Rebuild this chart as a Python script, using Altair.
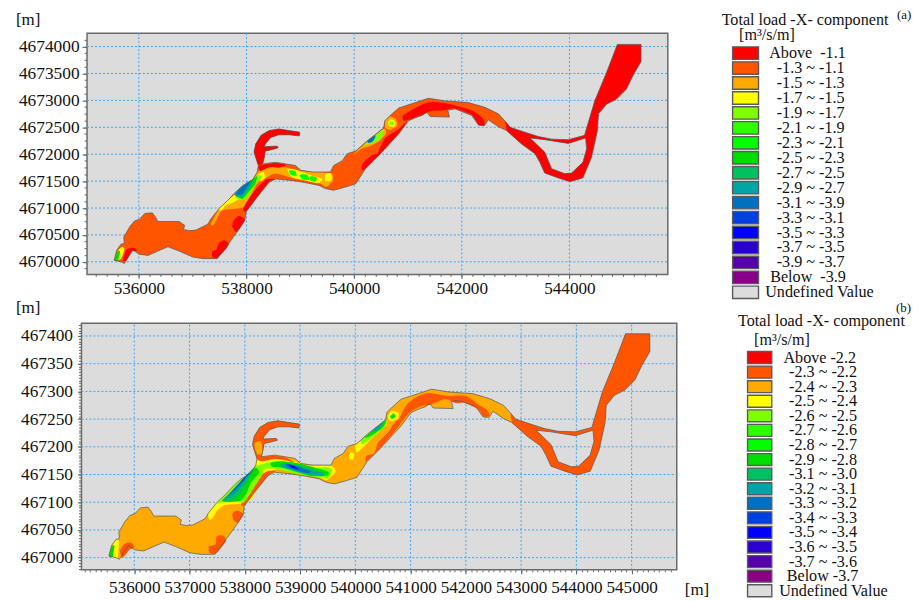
import altair as alt
import pandas as pd

W, H = 908, 592
FONT = "Liberation Serif"

PALETTE = ["#ff0000", "#ff5500", "#ffaa00", "#ffff00", "#80ff00", "#2bff00", "#00ff00", "#00dd00",
           "#00c060", "#00a5a5", "#0070c0", "#0040e0", "#0000ff", "#2a00d0", "#5500aa", "#880088", "#dcdcdc"]
LEVELS = list(range(17))

LABELS_A = ["Above\u00a0\u00a0-1.1", "-1.3 ~ -1.1", "-1.5 ~ -1.3", "-1.7 ~ -1.5", "-1.9 ~ -1.7", "-2.1 ~ -1.9",
            "-2.3 ~ -2.1", "-2.5 ~ -2.3", "-2.7 ~ -2.5", "-2.9 ~ -2.7", "-3.1 ~ -3.9", "-3.3 ~ -3.1",
            "-3.5 ~ -3.3", "-3.7 ~ -3.5", "-3.9 ~ -3.7", "Below\u00a0\u00a0-3.9", "Undefined Value"]
LABELS_B = ["Above -2.2", "-2.3 ~ -2.2", "-2.4 ~ -2.3", "-2.5 ~ -2.4", "-2.6 ~ -2.5", "-2.7 ~ -2.6",
            "-2.8 ~ -2.7", "-2.9 ~ -2.8", "-3.1 ~ -3.0", "-3.2 ~ -3.1", "-3.3 ~ -3.2", "-3.4 ~ -3.3",
            "-3.5 ~ -3.4", "-3.6 ~ -3.5", "-3.7 ~ -3.6", "Below -3.7", "Undefined Value"]

# River outline, metres (panel a northing; panel b's axis reads a tenth of it)
EAST = [(542800,4672620),(542900,4672500),(543170,4672410),(543420,4672330),(543670,4672280),(543980,4672270),
        (544280,4672350),(544470,4672990),(544690,4673520),(544890,4674040),(545330,4674040),(545330,4673720),
        (545180,4673460),(545060,4673210),(544870,4673020),(544690,4672930),(544540,4672750),(544520,4672440),
        (544410,4671940),(544250,4671560),(544010,4671490),(543790,4671560),(543540,4671650),(543450,4671850),
        (543360,4672010),(543110,4672190),(542830,4672440)]
ISLAND = [(543540,4672040),(543670,4671730),(543910,4671640),(544040,4671650),(544250,4671850),(544320,4672100),
          (544300,4672300),(543980,4672200),(543540,4672270),(543270,4672300)]
WEST_SOUTH = [(542830,4672440),(542680,4672510),(542490,4672640),(542420,4672530),(542310,4672540),(542185,4672720),
              (541880,4672840),(541740,4672820),(541770,4672690),(541410,4672700),(541350,4672780),(541260,4672720),
              (541170,4672690),(541010,4672620),(540830,4672380),(540460,4671980),(540210,4671730),(540030,4671450),
              (539840,4671390),(539620,4671330),(539470,4671360),(539350,4671420),(539100,4671470),(538850,4671510),
              (538540,4671540),(538420,4671480),(538170,4671170),(537990,4670930),(537970,4670770),(537800,4670520),
              (537460,4670060),(537190,4670060),(537000,4670090),(536750,4670200),(536540,4670280),(536350,4670200),
              (536170,4670120),(536010,4670140),(535890,4670220),(535730,4669970),(535670,4670000),(535540,4670030),
              (535590,4670220),(535670,4670330),(535730,4670340),(535720,4670460),(535830,4670650),(535920,4670760),
              (536010,4670790),(536110,4670900),(536250,4670910),(536310,4670830),(536350,4670750),(536750,4670750),
              (536850,4670680),(536830,4670600),(536940,4670580),(537060,4670590),(537280,4670700),(537340,4670800),
              (537490,4670990),(537650,4671140),(537770,4671270),(537930,4671420),(538110,4671520),(538200,4671670),
              (538220,4671790)]
HOOK = [(538170,4671940),(538140,4672040),(538170,4672190),(538270,4672350),(538420,4672440),(538600,4672470),
        (538850,4672430),(538990,4672410),(538980,4672340),(538790,4672360),(538600,4672360),(538450,4672310),
        (538350,4672190),(538330,4672140),(538570,4672150),(538590,4672120),(538450,4672080),(538350,4672060),
        (538330,4671940),(538300,4671820)]
WEST_NORTH = [(538540,4671850),(538730,4671820),(538910,4671790),(539010,4671700),(539220,4671670),(539560,4671670),
              (539620,4671790),(539780,4671880),(539870,4672010),(540030,4672060),(540210,4672220),(540550,4672490),
              (540570,4672620),(540670,4672720),(540830,4672860),(541140,4672960),(541380,4673040),(541690,4672990),
              (542120,4672960),(542430,4672870),(542680,4672750),(542800,4672620)]

PATCHES_A = [
 (2,[(537340,4670700),(537490,4670990),(537650,4671140),(537800,4671270),(537930,4671420),(538110,4671520),(538200,4671670),(538310,4671710),(538600,4671780),(538980,4671690),(539560,4671650),(539600,4671510),(539480,4671390),(539350,4671460),(538850,4671560),(538540,4671640),(538360,4671560),(538200,4671450),(538080,4671230),(537930,4671010),(537710,4670980),(537530,4670940),(537400,4670700)]),
 (0,[(535770,4670230),(535920,4670260),(535960,4670200),(535860,4670190),(535770,4670030),(535700,4670020)]),
 (0,[(537360,4670190),(537440,4670230),(537490,4670350),(537590,4670400),(537670,4670330),(537600,4670220),(537460,4670080),(537370,4670080)]),
 (0,[(537750,4670740),(537850,4670850),(537970,4670780),(537820,4670560),(537740,4670640)]),
 (0,[(538230,4671780),(538540,4671830),(538740,4671800),(538600,4671750),(538420,4671760),(538270,4671690)]),
 (0,[(538530,4671540),(538420,4671490),(538190,4671190),(538000,4670940),(537940,4670990),(538110,4671270),(538350,4671520)]),
 (0,[(540150,4671820),(540330,4671980),(540460,4671990),(540220,4671750),(540150,4671700)]),
 (0,[(540440,4672020),(540580,4672300),(540830,4672470),(540980,4672610),(540830,4672390),(540470,4671990)]),
 (0,[(540920,4672620),(540910,4672720),(541140,4672860),(541380,4672960),(541720,4672940),(542190,4672810),(542400,4672650),(542420,4672540),(542310,4672550),(542190,4672730),(541880,4672850),(541740,4672830),(541630,4672810),(541410,4672800),(541260,4672730),(541010,4672640)]),
 (2,[(540030,4672040),(540210,4672210),(540550,4672470),(540590,4672380),(540460,4672240),(540270,4672140),(540140,4672100),(539990,4671990)]),
 (2,[(540580,4672620),(540670,4672700),(540770,4672650),(540800,4672530),(540670,4672450),(540580,4672490)]),
 (3,[(537490,4670990),(537650,4671140),(537800,4671250),(537880,4671190),(537770,4671110),(537620,4671050),(537540,4670960)]),
 (3,[(538220,4671620),(538310,4671670),(538350,4671570),(538270,4671500)]),
 (3,[(539460,4671620),(539560,4671650),(539580,4671520),(539470,4671500)]),
 (3,[(538760,4671720),(538910,4671710),(539220,4671600),(539410,4671540),(539320,4671460),(539100,4671510),(538850,4671570)]),
 (3,[(540630,4672610),(540700,4672650),(540770,4672590),(540740,4672510),(540650,4672530)]),
 (3,[(535610,4670200),(535690,4670280),(535730,4670230),(535670,4670060),(535570,4670040)]),
 (4,[(537790,4671230),(537930,4671410),(538120,4671540),(538230,4671620),(538280,4671570),(538170,4671450),(538040,4671220),(537930,4671150),(537830,4671170)]),
 (4,[(540200,4672190),(540550,4672470),(540490,4672280),(540330,4672200),(540240,4672180)]),
 (4,[(540650,4672590),(540720,4672610),(540730,4672550),(540670,4672540)]),
 (7,[(537800,4671250),(537930,4671410),(538120,4671540),(538200,4671590),(538160,4671440),(538020,4671270),(537930,4671170),(537850,4671200)]),
 (6,[(538790,4671700),(538900,4671690),(538930,4671600),(538820,4671620)]),
 (6,[(538990,4671620),(539130,4671620),(539160,4671520),(539030,4671540)]),
 (6,[(539190,4671590),(539300,4671570),(539280,4671490),(539190,4671510)]),
 (7,[(535550,4670040),(535600,4670190),(535650,4670190),(535610,4670020)]),
 (9,[(537780,4671260),(537930,4671410),(538110,4671520),(538080,4671420),(537980,4671280),(537900,4671200),(537820,4671220)]),
 (10,[(537800,4671260),(537930,4671400),(538070,4671490),(537990,4671360),(537910,4671250)]),
 (10,[(540250,4672250),(540400,4672350),(540350,4672240),(540270,4672210)]),
]

PATCHES_B = [
 (1,[(535740,467012),(535830,467025),(535950,467027),(536000,467018),(535920,467015),(535790,467000)]),
 (1,[(537350,467020),(537470,467024),(537490,467038),(537600,467040),(537660,467030),(537480,467008),(537360,467009)]),
 (1,[(537780,467080),(537870,467085),(537970,467078),(537870,467063),(537790,467069)]),
 (1,[(540200,467174),(540200,467184),(540340,467188),(540410,467207),(540580,467225),(540760,467249),(540800,467240),(540470,467200)]),
 (1,[(540660,467237),(540780,467249),(540930,467276),(541110,467290),(541330,467297),(541660,467292),(541990,467292),(542230,467276),(542380,467267),(542430,467256),(542320,467255),(542230,467267),(541990,467279),(541810,467279),(541690,467285),(541570,467285),(541360,467276),(541210,467274),(541010,467264),(540870,467249),(540690,467228)]),
 (3,[(537340,467080),(537490,467099),(537650,467114),(537770,467127),(537930,467142),(538110,467152),(538200,467167),(538220,467178),(538540,467184),(538730,467181),(539010,467169),(539220,467166),(539560,467166),(539640,467155),(539480,467140),(539350,467146),(539100,467152),(538850,467156),(538600,467160),(538400,467152),(538250,467128),(538120,467105),(537990,467098),(537880,467097),(537640,467095),(537500,467085),(537420,467072),(537360,467068)]),
 (1,[(538560,467156),(538440,467150),(538200,467121),(538000,467095),(537930,467096),(538080,467122),(538260,467146),(538410,467156)]),
 (1,[(538220,467180),(538540,467184),(538730,467181),(538900,467172),(538700,467176),(538540,467178),(538300,467174)]),
 (2,[(538180,467207),(538290,467210),(538320,467189),(538230,467186),(538190,467195)]),
 (3,[(540000,467202),(540030,467205),(540210,467221),(540550,467248),(540560,467240),(540300,467215),(540100,467195),(540020,467190)]),
 (3,[(539900,467189),(539980,467188),(539960,467177),(539900,467178)]),
 (3,[(540590,467255),(540660,467265),(540780,467261),(540770,467250),(540630,467246)]),
 (3,[(535600,467020),(535670,467032),(535720,467030),(535700,467000),(535620,467002)]),
 (4,[(537500,467098),(537650,467113),(537770,467126),(537930,467141),(538110,467151),(538190,467165),(538600,467175),(538850,467168),(539100,467161),(539460,467163),(539580,467158),(539500,467143),(539350,467145),(538900,467152),(538580,467160),(538350,467160),(538320,467150),(538170,467127),(537990,467100),(537850,467101),(537600,467100)]),
 (4,[(540100,467212),(540210,467221),(540550,467248),(540530,467236),(540300,467216),(540130,467205)]),
 (7,[(537600,467102),(537840,467126),(538080,467153),(538200,467162),(538260,467153),(538110,467135),(538020,467114),(537900,467102)]),
 (7,[(538470,467171),(538680,467174),(538980,467170),(539490,467156),(539490,467148),(539220,467147),(538920,467155),(538680,467162),(538500,467164)]),
 (7,[(540180,467218),(540550,467248),(540500,467235),(540250,467218)]),
 (7,[(540630,467255),(540690,467260),(540730,467255),(540660,467250)]),
 (7,[(535545,467003),(535592,467020),(535640,467022),(535610,467002)]),
 (8,[(537590,467103),(537840,467127),(538080,467154),(538170,467162),(538050,467138),(537900,467114),(537750,467103)]),
 (9,[(537630,467105),(537840,467127),(538080,467153),(537990,467135),(537810,467114)]),
 (9,[(538650,467170),(538980,467166),(539400,467153),(539430,467148),(539160,467150),(538860,467158),(538710,467162)]),
 (9,[(540300,467228),(540520,467246),(540400,467230)]),
 (10,[(537720,467114),(537900,467135),(538090,467154),(537990,467140),(537840,467123)]),
 (10,[(538750,467170),(538980,467164),(539190,467155),(539100,467153),(538890,467159),(538770,467164)]),
 (11,[(537930,467138),(538080,467153),(537990,467142)]),
 (12,[(538790,467168),(538890,467165),(538980,467159),(538860,467162)]),
]

XT_A = [536000, 538000, 540000, 542000, 544000]
YT_A = [4670000, 4670500, 4671000, 4671500, 4672000, 4672500, 4673000, 4673500, 4674000]
XT_B = [536000, 537000, 538000, 539000, 540000, 541000, 542000, 543000, 544000, 545000]
YT_B = [467000, 467050, 467100, 467150, 467200, 467250, 467300, 467350, 467400]


def rows(rings, div=1):
    out = []
    for pid, (level, pts) in enumerate(rings):
        for i, (x, y) in enumerate(pts):
            out.append({"pid": pid, "level": level, "i": i, "x": x, "y": y / div})
    return pd.DataFrame(out)


FILL = alt.Fill("level:O", scale=alt.Scale(domain=LEVELS, range=PALETTE), legend=None)
WEST = WEST_SOUTH + HOOK + WEST_NORTH


def panel(xdom, xrng, ydom, yrng, xt, yt, xminor, yminor, base, patches, div, xpad, ypad, ytick):
    xs = alt.Scale(domain=xdom, range=xrng, nice=False, zero=False)
    ys = alt.Scale(domain=ydom, range=yrng, nice=False, zero=False)
    X = lambda **k: alt.X("x:Q", scale=xs, axis=None, **k)
    Y = lambda **k: alt.Y("y:Q", scale=ys, axis=None, **k)
    xoff, yoff = yrng[0] - H, -xrng[0]

    frame = alt.Chart(pd.DataFrame({"x": [xdom[0]], "x2": [xdom[1]], "y": [ydom[0]], "y2": [ydom[1]]})).mark_rect(
        fill="#dcdcdc", stroke="#6a6a6a", strokeWidth=1.5).encode(x=X(), x2="x2:Q", y=Y(), y2="y2:Q")
    vgrid = alt.Chart(pd.DataFrame({"x": xt, "lo": ydom[0], "hi": ydom[1]})).mark_rule(
        color="#45a5ea", strokeWidth=1, strokeDash=[2, 2]).encode(
        x=X(), y=alt.Y("lo:Q", scale=ys, axis=None), y2="hi:Q")
    hgrid = alt.Chart(pd.DataFrame({"y": yt, "lo": xdom[0], "hi": xdom[1]})).mark_rule(
        color="#45a5ea", strokeWidth=1, strokeDash=[2, 2]).encode(
        y=Y(), x=alt.X("lo:Q", scale=xs, axis=None), x2="hi:Q")
    basefill = alt.Chart(rows(base, div)).mark_line(interpolate="linear-closed", strokeWidth=0).encode(
        x=X(), y=Y(), fill=FILL, detail="pid:N", order="i:Q")
    blobs = alt.Chart(rows(patches)).mark_line(interpolate="cardinal-closed", tension=0.3, strokeWidth=0).encode(
        x=X(), y=Y(), fill=FILL, detail="pid:N", order="i:Q")
    outline = alt.Chart(rows([(0, WEST + EAST), (1, ISLAND)], div)).mark_line(
        interpolate="linear-closed", color="#555555", strokeWidth=0.7).encode(
        x=X(), y=Y(), detail="pid:N", order="i:Q")
    main = alt.layer(frame, vgrid, hgrid, basefill, blobs, outline)

    corner = pd.DataFrame({"x": xt[:1], "y": yt[:1]})
    major = alt.Chart(corner).mark_point(opacity=0).encode(
        x=alt.X("x:Q", scale=xs, axis=alt.Axis(values=xt, orient="bottom", offset=xoff, tickSize=4, domain=False,
                                               grid=False, format="d", title=None, labelFont=FONT, labelColor="#111111",
                                               labelFontSize=17.2, labelPadding=xpad, labelOverlap=False, tickColor="#555555")),
        y=alt.Y("y:Q", scale=ys, axis=alt.Axis(values=yt, orient="left", offset=yoff, tickSize=ytick, domain=False,
                                               grid=False, format="d", title=None, labelFont=FONT, labelColor="#111111",
                                               labelFontSize=17.4, labelPadding=ypad, labelOverlap=False, tickColor="#555555")))
    minor = alt.Chart(corner).mark_point(opacity=0).encode(
        x=alt.X("x:Q", scale=xs, axis=alt.Axis(values=xminor, orient="bottom", offset=xoff, tickSize=2,
                                               labels=False, domain=False, tickColor="#666666", title=None, grid=False)),
        y=alt.Y("y:Q", scale=ys, axis=alt.Axis(values=yminor, orient="left", offset=yoff, tickSize=3,
                                               labels=False, domain=False, tickColor="#666666", title=None, grid=False)))
    return main, major, minor


panel_a = panel([535037, 545828], [79.3, 662], [4669767, 4674248], [266.3, 24.3], XT_A, YT_A,
                list(range(535200, 545800, 200)), list(range(4669875, 4674200, 125)),
                [(1, WEST), (0, EAST + EAST[:1] + ISLAND + ISLAND[:1]), (0, WEST_SOUTH[-1:] + HOOK)],
                PATCHES_A, 1, 1, 3, 5)
panel_b = panel([535044, 545817], [73.7, 671], [466978, 467423], [562.7, 315.3], XT_B, YT_B,
                list(range(535100, 545800, 100)), list(range(466980, 467425, 5)),
                [(2, WEST), (1, EAST + EAST[:1] + ISLAND + ISLAND[:1]), (1, WEST_SOUTH[-1:] + HOOK)],
                PATCHES_B, 10, 5, 5, 4)


def legend(labels, y0, y1, x0, x1, h, tx):
    df = pd.DataFrame({"label": labels, "level": LEVELS})
    ys = alt.Y("label:N", scale=alt.Scale(domain=labels, range=[y0, y1], type="point", padding=0), axis=None)
    sw = alt.Chart(df).mark_rect(height=h, stroke="#5a5a5a", strokeWidth=1.4).encode(
        x=alt.value(x0), x2=alt.value(x1), y=ys, fill=FILL)
    layers = [sw]
    groups = [(labels[:1], tx[0]), (labels[1:15], tx[1]), (labels[15:16], tx[2]), (labels[16:], tx[3])]
    for group, gx in groups:
        layers.append(alt.Chart(pd.DataFrame({"label": group})).mark_text(
            align="left", baseline="middle", font=FONT, fontSize=16.2, color="#111111").encode(
            x=alt.value(gx), y=ys, text="label:N"))
    return alt.layer(*layers)


def caption(text, x, y, size=16.2):
    return alt.Chart(pd.DataFrame({"t": [text]})).mark_text(
        align="left", baseline="middle", font=FONT, fontSize=size, color="#111111").encode(
        x=alt.value(x), y=alt.value(y), text="t:N")


leg_a = legend(LABELS_A, 44.3, 284.3, 727, 753, 12.5, [763.7, 771.3, 764.7, 759.7])
leg_b = legend(LABELS_B, 349.7, 583.7, 742, 766.3, 12, [778, 783.7, 781.3, 773.7])

texts = [caption("[m]", 8, 11, 17), caption("[m]", 8, 300, 17), caption("[m]", 679, 582.7, 17),
         caption("Total load -X- component", 716, 11.5), caption("[m³/s/m]", 733.5, 26), caption("(a)", 892, 6.5, 13),
         caption("Total load -X- component", 732.5, 313.5), caption("[m³/s/m]", 748.5, 332), caption("(b)", 891, 300, 13)]

chart = alt.layer(*panel_a, *panel_b, leg_a, leg_b, *texts).resolve_scale(
    x="independent", y="independent").properties(
    width=W, height=H, padding=0, autosize=alt.AutoSizeParams(type="none")
).configure_view(stroke=None)

chart.save("out.html", embed_options={"renderer": "svg", "actions": False})
